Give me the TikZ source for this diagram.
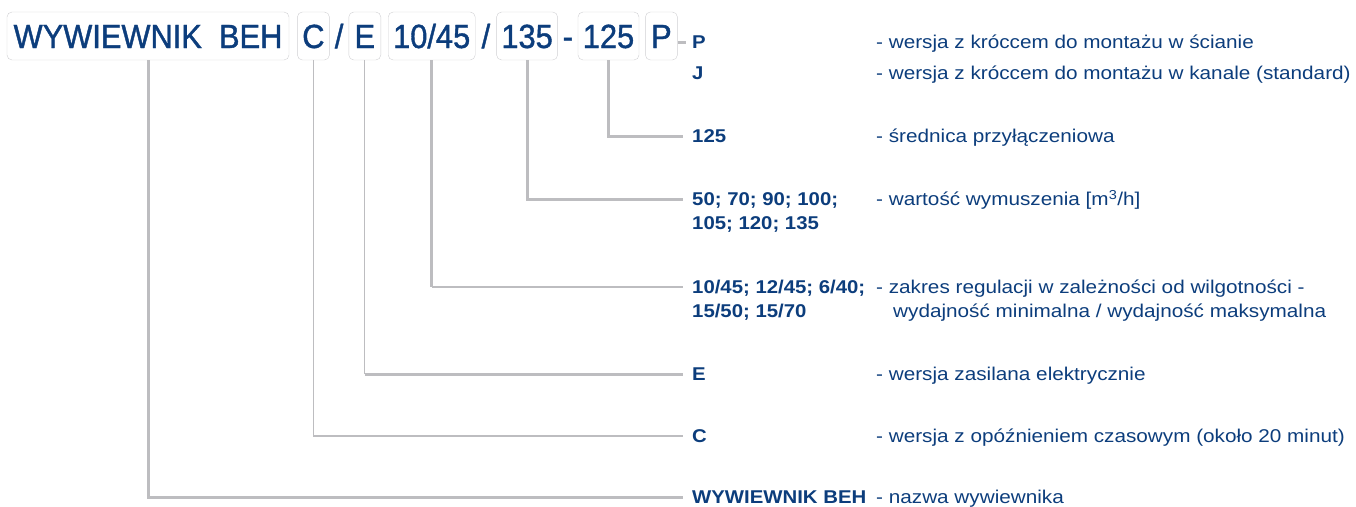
\documentclass[tikz,border=0pt]{standalone}
\usepackage{fontspec}
\setmainfont{Liberation Sans}[FakeStretch=1.1]
\newfontfamily\descfont{Liberation Sans}[FakeStretch=1.12]
\newfontfamily\boxfont{Liberation Sans}[FakeStretch=0.92, FakeBold=1.2]
\usetikzlibrary{positioning}
\definecolor{navy}{HTML}{0C3D7C}
\definecolor{linegray}{HTML}{BDBDC0}
\definecolor{boxgray}{HTML}{CFCFD2}
\tikzset{
        part/.style={draw=boxgray, rounded corners=5pt, minimum height=48pt,
                inner sep=0pt, text height=24pt, text depth=0pt, text=navy,
                font=\boxfont\fontsize{33.5}{36}\selectfont},
        sep/.style={inner sep=0pt, text height=24pt, text depth=0pt, text=navy,
                font=\boxfont\fontsize{33.5}{36}\selectfont},
        code/.style={anchor=west, inner sep=0pt, text height=13.2pt, text depth=0pt,
                text=navy, font=\bfseries\fontsize{18.5}{25}\selectfont},
        desc/.style={code, font=\descfont\fontsize{18.5}{25}\selectfont},
        thickline/.style={draw=linegray, line width=3pt},
        thinline/.style={draw=linegray, line width=1.2pt}
        }

\begin{document}
\begin{tikzpicture}[x=1pt, y=-1pt]
        \useasboundingbox (0,0) rectangle (1356,506);
        % the type code
        \node[part, minimum width=282pt] (nm) at (148,36) {WYWIEWNIK~~BEH};
        \node[part, minimum width=32pt, right=8pt of nm] (c) {C};
        \node[part, minimum width=32pt, right=19pt of c] (e) {E};
        \node[part, minimum width=87pt, right=7pt of e] (reg) {10/45};
        \node[part, minimum width=61pt, right=21pt of reg] (flow) {135};
        \node[part, minimum width=61pt, right=20pt of flow] (dia) {125};
        \node[part, minimum width=32pt, right=6pt of dia] (p) {P};
        \path (c.east) -- (e.west) node[midway, sep] (s1) {/};
        \path (reg.east) -- (flow.west) node[midway, sep] (s2) {/};
        \path (flow.east) -- (dia.west) node[midway, sep] (s3) {-};

        % codes
        \node[code] (kP) at (692,42) {P};
        \node[code] (kJ) at (692,73) {J};
        \node[code] (kDia) at (692,136) {125};
        \node[code] (kFlow) at (692,199) {50; 70; 90; 100;};
        \node[code] (kFlow2) at (692,223) {105; 120; 135};
        \node[code] (kReg) at (692,287) {10/45; 12/45; 6/40;};
        \node[code] (kReg2) at (692,311) {15/50; 15/70};
        \node[code] (kE) at (692,374) {E};
        \node[code] (kC) at (692,436) {C};
        \node[code] (kNm) at (692,497) {WYWIEWNIK BEH};

        % descriptions
        \node[desc] (dP) at (876,42) {- wersja z króccem do montażu w ścianie};
        \node[desc] (dJ) at (876,73) {- wersja z króccem do montażu w kanale (standard)};
        \node[desc] (dDia) at (876,136) {- średnica przyłączeniowa};
        \node[desc] (dFlow) at (876,199) {- wartość wymuszenia [m\textsuperscript{3}/h]};
        \node[desc] (dReg) at (876,287) {- zakres regulacji w zależności od wilgotności -};
        \node[desc] (dReg2) at (893,311) {wydajność minimalna / wydajność maksymalna};
        \node[desc] (dE) at (876,374) {- wersja zasilana elektrycznie};
        \node[desc] (dC) at (876,436) {- wersja z opóźnieniem czasowym (około 20 minut)};
        \node[desc] (dNm) at (876,497) {- nazwa wywiewnika};

        % connectors
        \draw[thickline] (p.east |- kP.west) -- ([xshift=-6pt]kP.west);
        \draw[thickline] (dia.south) |- ([xshift=-9pt]kDia.west);
        \draw[thickline] (flow.south) |- ([xshift=-9pt]kFlow.west);
        \draw[thickline] (reg.south) -- (reg.south |- kReg.west);
        \draw[thinline] (reg.south |- kReg.west) -- ([xshift=-9pt]kReg.west);
        \draw[thinline] (e.south) -- (e.south |- kE.west);
        \draw[thickline] (e.south |- kE.west) -- ([xshift=-9pt]kE.west);
        \draw[thinline] (c.south) |- ([xshift=-9pt]kC.west);
        \draw[thickline] (nm.south) |- ([xshift=-9pt]kNm.west);
\end{tikzpicture}
\end{document}
